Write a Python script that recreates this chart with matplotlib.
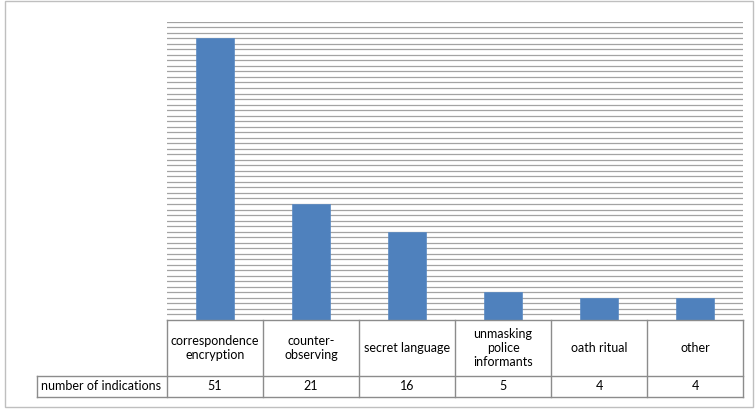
import matplotlib
matplotlib.use("Agg")
import matplotlib.pyplot as plt
from matplotlib.transforms import blended_transform_factory
from matplotlib.lines import Line2D
from matplotlib.patches import Rectangle

categories = ["correspondence\nencryption", "counter-\nobserving", "secret language",
              "unmasking\npolice\ninformants", "oath ritual", "other"]
values = [51, 21, 16, 5, 4, 4]
row_label = "number of indications"

W, H = 756, 409
fig = plt.figure(figsize=(W / 100, H / 100), dpi=100)
plt.rcParams["font.family"] = ["Lato", "DejaVu Sans"]

def fx(px):
    return px / W

def fy(py):
    return 1 - py / H

# plot area in pixels
left, right, top, bottom = 167, 743, 21.7, 320
ax = fig.add_axes([fx(left), fy(bottom), fx(right) - fx(left), fy(top) - fy(bottom)])
n = len(values)
x = list(range(n))
ax.bar(x, values, width=0.4, color="#4F81BD", edgecolor="#5a8ac4", linewidth=0.5, zorder=3)
ax.set_xlim(-0.5, n - 0.5)
ax.set_ylim(0, 54)
for v in range(1, 55):
    ax.axhline(v, color="#a3a3a3", linewidth=0.9, zorder=1)
ax.set_xticks([])
ax.set_yticks([])
for s in ax.spines.values():
    s.set_visible(False)

# data table below the plot area
tr = blended_transform_factory(ax.transData, fig.transFigure)
col_w = (right - left) / n
label_left = -0.5 - (left - 37) / col_w
y_top, y_mid, y_bot = fy(320), fy(376), fy(397)
tc = "#8c8c8c"
lw = 1.0

def hline(x0, x1, y):
    fig.add_artist(Line2D([x0, x1], [y, y], transform=tr, color=tc, linewidth=lw))

def vline(xv, y0, y1):
    fig.add_artist(Line2D([xv, xv], [y0, y1], transform=tr, color=tc, linewidth=lw))

hline(-0.5, n - 0.5, y_top)
hline(label_left, n - 0.5, y_mid)
hline(label_left, n - 0.5, y_bot)
vline(label_left, y_mid, y_bot)
for i in range(n + 1):
    vline(i - 0.5, y_top, y_bot)

for i, (c, v) in enumerate(zip(categories, values)):
    fig.text(i, (y_top + y_mid) / 2, c, transform=tr, ha="center", va="center",
             fontsize=9, color="#000000", linespacing=1.25)
    fig.text(i, (y_mid + y_bot) / 2, str(v), transform=tr, ha="center", va="center",
             fontsize=9, color="#000000")
fig.text(label_left + 0.04, (y_mid + y_bot) / 2, row_label, transform=tr,
         ha="left", va="center", fontsize=9, color="#000000")

# chart border
fig.add_artist(Rectangle((fx(5), fy(407)), fx(753) - fx(5), fy(1) - fy(407),
                         transform=fig.transFigure, fill=False, edgecolor="#bfbfbf", linewidth=1))

fig.savefig("out.png", dpi=100)
